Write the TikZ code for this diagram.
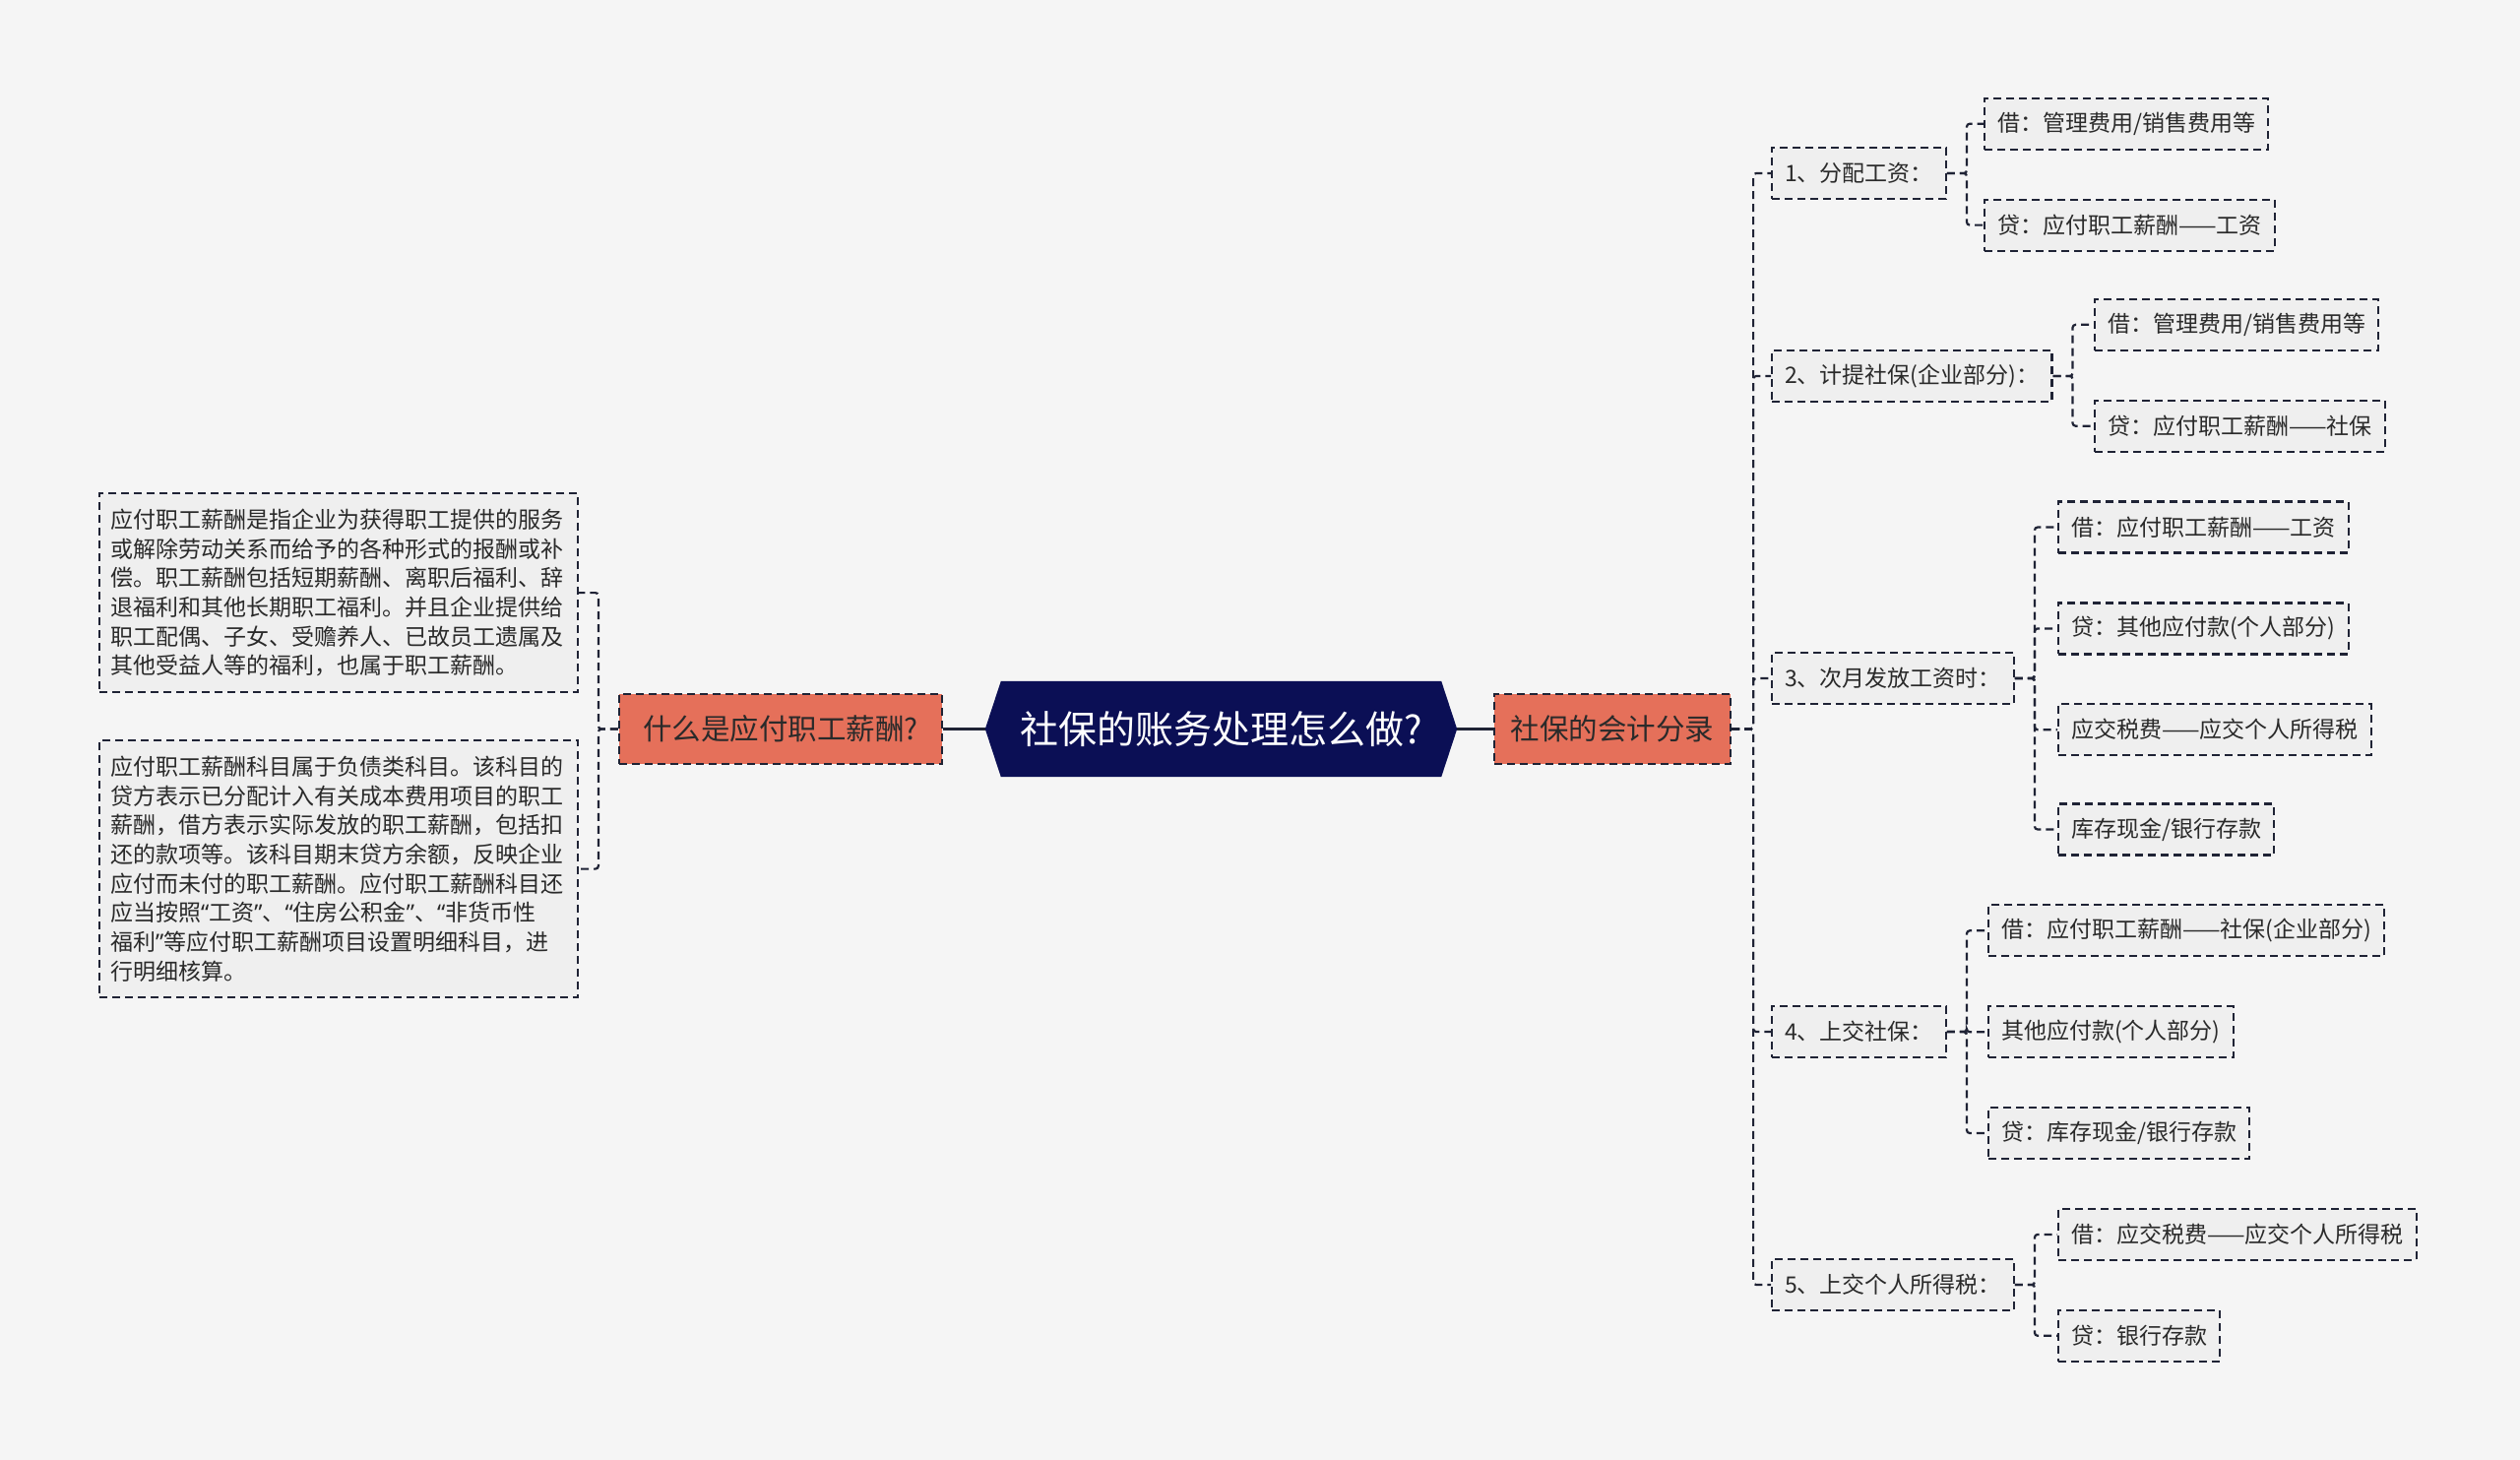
\documentclass[tikz,border=0pt]{standalone}
\usepackage{fontspec}
\setmainfont{Noto Sans CJK SC}
\newfontfamily\qfont{Noto Sans}
\usetikzlibrary{backgrounds}
\definecolor{bg}{HTML}{F5F5F5}
\definecolor{ln}{HTML}{1F2335}
\definecolor{navy}{HTML}{0B0F55}
\definecolor{salmon}{HTML}{E5705A}
\definecolor{nf}{HTML}{EFEFEF}
\definecolor{tx}{HTML}{2A2A2A}
\newcommand{\myLQ}{{\qfont “}}
\newcommand{\myRQ}{{\qfont ”}}
\begin{document}
\begin{tikzpicture}[x=1pt,y=-1pt,
  dl/.style={draw=ln, line width=2.2pt, dash pattern=on 8pt off 5pt},
  leaf/.style={dl, fill=nf, anchor=west, inner xsep=13pt, inner ysep=0pt,
    minimum height=52pt, text=tx, font=\fontsize{23}{28}\selectfont},
  topic/.style={dl, fill=salmon, inner sep=0pt, minimum height=71pt,
    text=tx, font=\fontsize{29.5}{34}\selectfont},
  txtbox/.style={dl, fill=nf, anchor=north west, text width=464pt, inner xsep=11pt,
    minimum width=486pt, align=left, text=tx, font=\fontsize{23}{29.7}\selectfont},
  conn/.style={dl, rounded corners=3pt},
  solidconn/.style={draw=ln, line width=2.2pt}
]
\begin{scope}[on background layer]
  \fill[bg] (0,0) rectangle (2560,1483);
\end{scope}
\useasboundingbox (0,0) rectangle (2560,1483);

% root
\node[inner sep=0pt, minimum width=479pt, minimum height=97pt, text=white,
  font=\fontsize{39}{46}\selectfont] (root) at (1240.5,740.5) {社保的账务处理怎么做?};
\begin{scope}[on background layer]
  \fill[navy] (root.west) -- ([xshift=16pt]root.north west) -- ([xshift=-16pt]root.north east)
    -- (root.east) -- ([xshift=-16pt]root.south east) -- ([xshift=16pt]root.south west) -- cycle;
\end{scope}

% main topics
\node[topic, minimum width=328pt] (lqn) at (793,740.5) {什么是应付职工薪酬?};
\node[topic, minimum width=240pt] (rqn) at (1638,740.5) {社保的会计分录};

% left text boxes
\node[txtbox, minimum height=202pt] (t1) at (100,500) {应付职工薪酬是指企业为获得职工提供的服务\\或解除劳动关系而给予的各种形式的报酬或补\\偿。职工薪酬包括短期薪酬、离职后福利、辞\\退福利和其他长期职工福利。并且企业提供给\\职工配偶、子女、受赡养人、已故员工遗属及\\其他受益人等的福利，也属于职工薪酬。};
\node[txtbox, minimum height=261pt] (t2) at (100,751) {应付职工薪酬科目属于负债类科目。该科目的\\贷方表示已分配计入有关成本费用项目的职工\\薪酬，借方表示实际发放的职工薪酬，包括扣\\还的款项等。该科目期末贷方余额，反映企业\\应付而未付的职工薪酬。应付职工薪酬科目还\\应当按照\myLQ 工资\myRQ 、\myLQ 住房公积金\myRQ 、\myLQ 非货币性\\福利\myRQ 等应付职工薪酬项目设置明细科目，进\\行明细核算。};

% level 2
\node[leaf] (s1) at (1799,176) {1、分配工资：};
\node[leaf] (s2) at (1799,382) {2、计提社保(企业部分)：};
\node[leaf] (s3) at (1799,689) {3、次月发放工资时：};
\node[leaf] (s4) at (1799,1048) {4、上交社保：};
\node[leaf] (s5) at (1799,1305) {5、上交个人所得税：};

% level 3
\node[leaf] (a1) at (2015,125.7) {借：管理费用/销售费用等};
\node[leaf] (a2) at (2015,228.6) {贷：应付职工薪酬——工资};
\node[leaf] (b1) at (2127,329.8) {借：管理费用/销售费用等};
\node[leaf] (b2) at (2127,432.7) {贷：应付职工薪酬——社保};
\node[leaf] (c1) at (2090,535.5) {借：应付职工薪酬——工资};
\node[leaf] (c2) at (2090,638.4) {贷：其他应付款(个人部分)};
\node[leaf] (c3) at (2090,741.2) {应交税费——应交个人所得税};
\node[leaf] (c4) at (2090,842.5) {库存现金/银行存款};
\node[leaf] (d1) at (2019,945.3) {借：应付职工薪酬——社保(企业部分)};
\node[leaf] (d2) at (2019,1048.2) {其他应付款(个人部分)};
\node[leaf] (d3) at (2019,1151) {贷：库存现金/银行存款};
\node[leaf] (e1) at (2090,1253.9) {借：应交税费——应交个人所得税};
\node[leaf] (e2) at (2090,1356.8) {贷：银行存款};

% connectors
\draw[solidconn] (root.west) -- (lqn.east);
\draw[solidconn] (root.east) -- (rqn.west);
\foreach \t in {t1,t2} \draw[conn] (lqn.west) -- ++(-20,0) |- (\t.east);
\foreach \t in {s1,s2,s3,s4,s5} \draw[conn] (rqn.east) -- ++(22,0) |- (\t.west);
\foreach \t in {a1,a2} \draw[conn] (s1.east) -- ++(20,0) |- (\t.west);
\foreach \t in {b1,b2} \draw[conn] (s2.east) -- ++(20,0) |- (\t.west);
\foreach \t in {c1,c2,c3,c4} \draw[conn] (s3.east) -- ++(20,0) |- (\t.west);
\foreach \t in {d1,d2,d3} \draw[conn] (s4.east) -- ++(20,0) |- (\t.west);
\foreach \t in {e1,e2} \draw[conn] (s5.east) -- ++(20,0) |- (\t.west);
\end{tikzpicture}
\end{document}
